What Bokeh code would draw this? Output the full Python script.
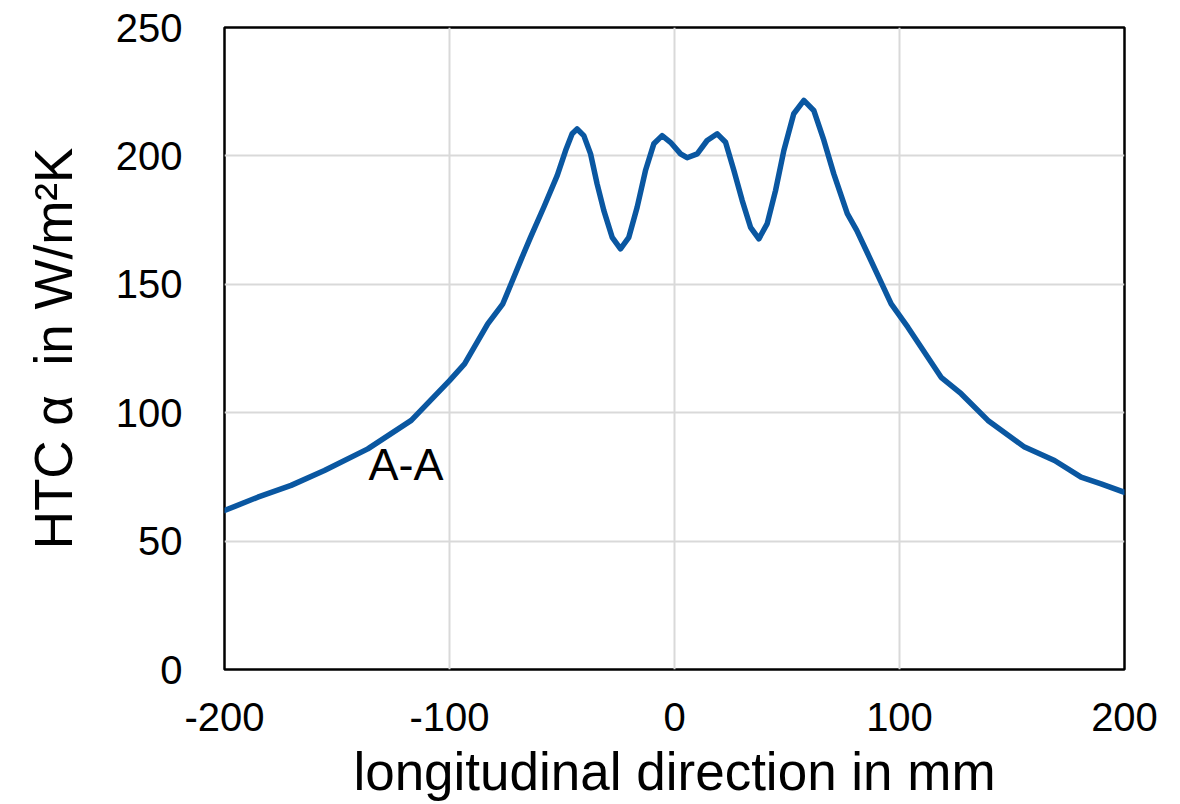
from bokeh.plotting import figure
from bokeh.models import Range1d, FixedTicker, Label
from bokeh.embed import file_html
from bokeh.resources import INLINE

# Data
x_mm = [-200, -185.2, -170.4, -155.6, -136.3, -117, -100, -93.3, -83, -76.3, -72.6,
        -68, -64, -58.1, -52.1, -48.4, -45.5, -43.3, -40.3, -37.3, -34.4, -31.4,
        -27.7, -24, -20.3, -16.6, -12.9, -9.2, -5.5, -1.8, 2.7, 5.6, 10.1, 14.5,
        19, 22.7, 26.4, 30.1, 33.8, 37.5, 41.2, 44.9, 48.6, 53, 57.5, 61.9, 66.4,
        70.8, 76.8, 81, 85.9, 96.3, 103.7, 118.5, 127.4, 139.3, 155.6, 168.9,
        180.7, 189.6, 200]
htc = [61.9, 67.1, 71.7, 77.5, 85.9, 97, 112.5, 119, 134.6, 142.4, 150.2,
       160, 168.3, 180, 192.4, 202.1, 208.6, 210.5, 207.9, 200.8, 189.1, 178.7,
       168.3, 163.8, 168.3, 180, 194.3, 204.7, 207.9, 205.3, 200.8, 199.3, 200.8, 206,
       208.6, 205.3, 194.3, 182.6, 172.2, 167.7, 173.6, 186.5, 202.1, 216.4, 221.6, 217.7, 206,
       193, 177.5, 171, 161.9, 142.4, 133.3, 113.8, 107.4, 97, 86.6, 81.4,
       74.9, 72.3, 69]
x_ticks = [-200, -100, 0, 100, 200]
y_ticks = [0, 50, 100, 150, 200, 250]
annotation_text = "A-A"
annotation_pos = (-136, 80)

FONT = "Liberation Sans"

p = figure(width=1180, height=804, output_backend="svg", toolbar_location=None,
           x_range=Range1d(-200, 200), y_range=Range1d(0, 250),
           min_border_left=224, min_border_right=56, min_border_top=27, min_border_bottom=135)

p.line(x_mm, htc, line_color="#0a57a1", line_width=5.5, line_join="round", line_cap="round")

p.add_layout(Label(x=annotation_pos[0], y=annotation_pos[1], text=annotation_text,
                   text_font=FONT, text_font_size="45px", text_color="black",
                   text_baseline="alphabetic", text_align="left"))

p.outline_line_color = "black"
p.outline_line_width = 2.5
p.background_fill_color = "white"
p.border_fill_color = "white"

p.xaxis.ticker = FixedTicker(ticks=x_ticks)
p.yaxis.ticker = FixedTicker(ticks=y_ticks)
p.xaxis.major_label_overrides = {t: str(t) for t in x_ticks}
p.xgrid.grid_line_color = "#d9d9d9"
p.ygrid.grid_line_color = "#d9d9d9"
p.xgrid.grid_line_width = 2
p.ygrid.grid_line_width = 2

for ax in (p.xaxis, p.yaxis):
    ax.axis_line_color = None
    ax.major_tick_line_color = None
    ax.minor_tick_line_color = None
    ax.major_tick_out = 0
    ax.major_tick_in = 0
    ax.major_label_text_font = FONT
    ax.major_label_text_color = "black"
    ax.axis_label_text_font = FONT
    ax.axis_label_text_font_style = "normal"
    ax.axis_label_text_color = "black"

p.xaxis.major_label_text_font_size = "40px"
p.yaxis.major_label_text_font_size = "40px"
p.xaxis.major_label_standoff = 33
p.yaxis.major_label_standoff = 42

p.xaxis.axis_label = "longitudinal direction in mm"
p.xaxis.axis_label_text_font_size = "53px"
p.xaxis.axis_label_standoff = 8
p.yaxis.axis_label = "HTC α\u00a0 in W/m²K"
p.yaxis.axis_label_text_font_size = "53px"
p.yaxis.axis_label_standoff = 30

open("out.html", "w").write(file_html(p, INLINE))
